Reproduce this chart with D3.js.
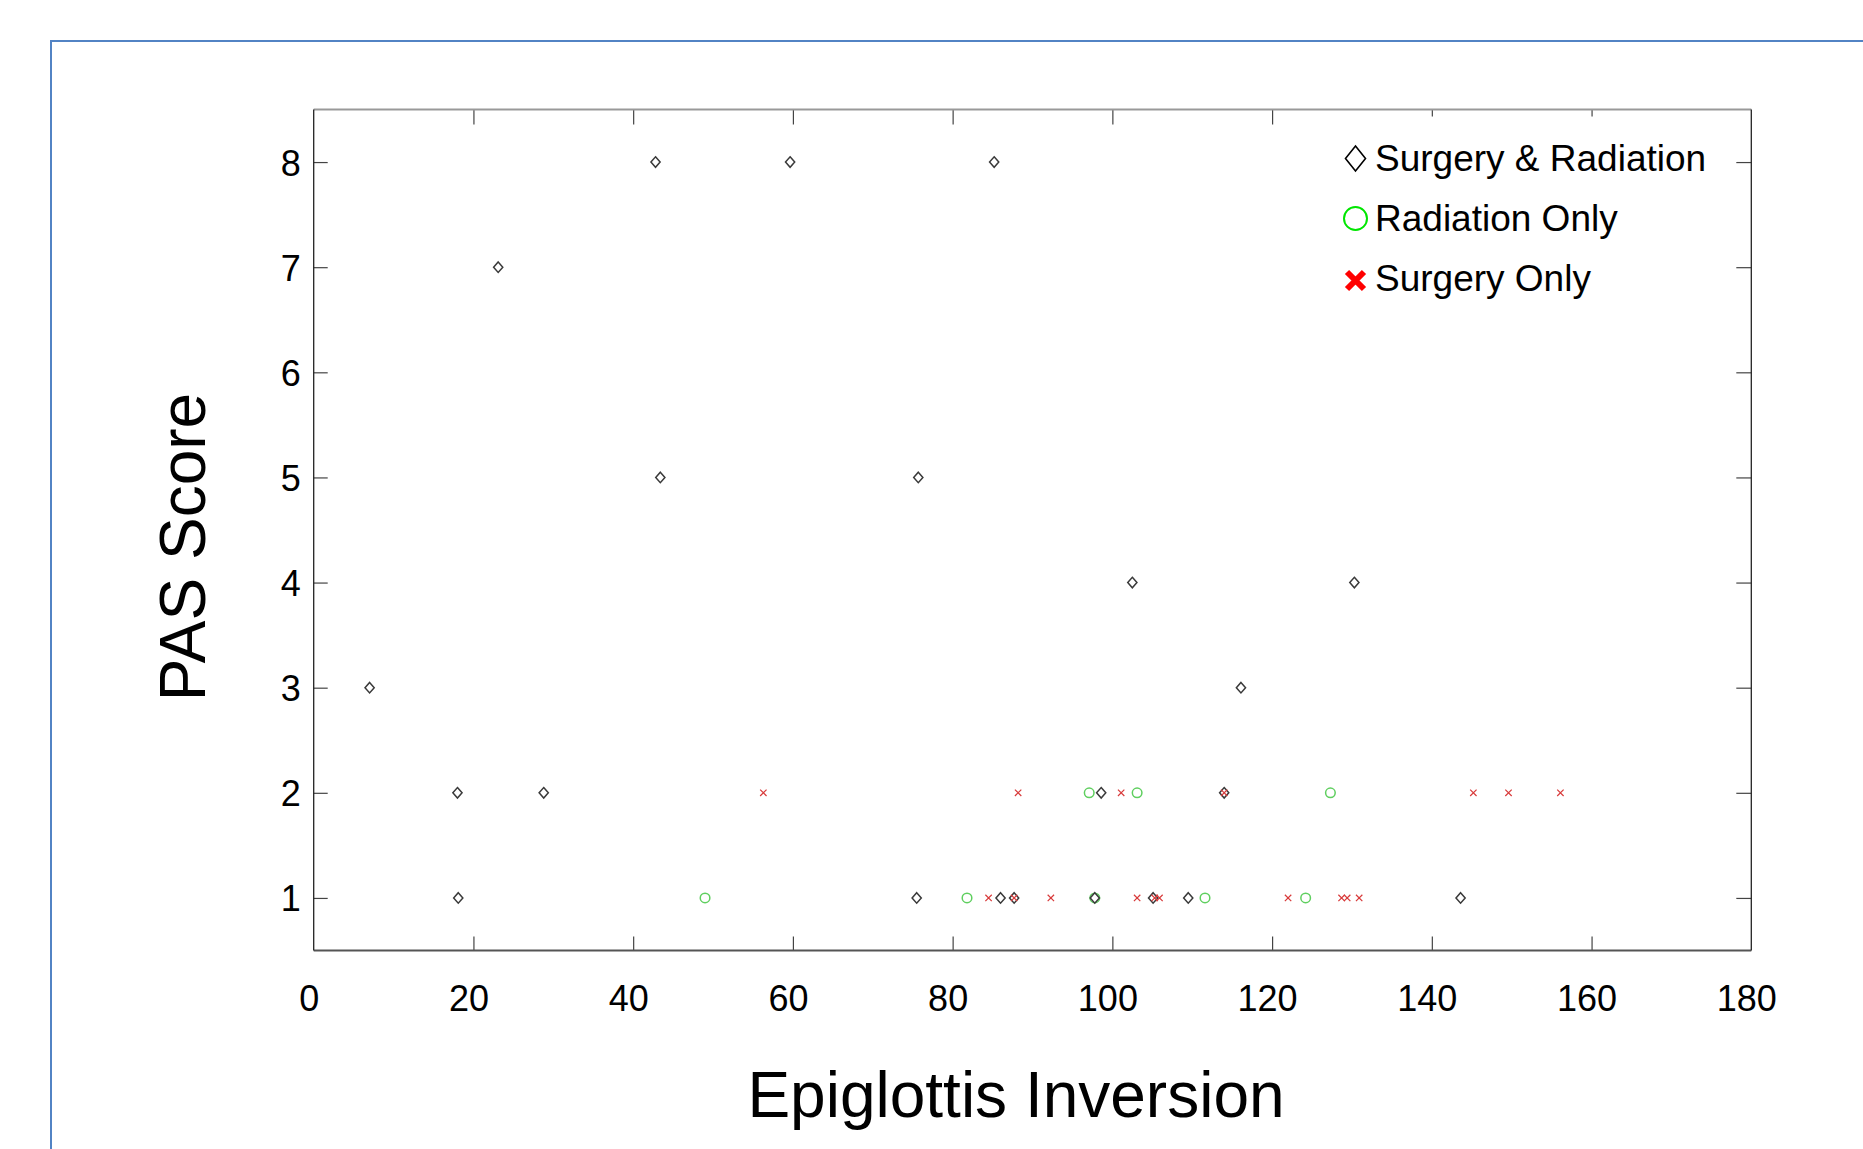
<!DOCTYPE html>
<html>
<head>
    <script src="https://d3js.org/d3.v7.min.js"></script>
    <title>PAS Score vs Epiglottis Inversion</title>
    <style>
        body { margin: 0; background: white; }
        text { font-family: "Liberation Sans", Arial, sans-serif; fill: black; }
    </style>
</head>
<body>
    <svg id="plot" height="1149" width="1863"></svg>
    <script>
        // data: [epiglottis inversion, PAS score]
        const surgeryRadiation = [
            [7.0, 3], [18.0, 2], [18.1, 1], [23.1, 7], [28.8, 2], [42.8, 8], [43.4, 5],
            [59.65, 8], [75.5, 1], [75.7, 5], [85.2, 8], [86.0, 1], [87.7, 1], [97.8, 1],
            [98.6, 2], [102.5, 4], [105.1, 1], [109.5, 1], [114.0, 2], [116.1, 3],
            [130.3, 4], [143.6, 1]
        ];
        const radiationOnly = [
            [49.0, 1], [81.8, 1], [97.1, 2], [97.8, 1], [103.1, 2], [111.6, 1],
            [124.2, 1], [127.3, 2]
        ];
        const surgeryOnly = [
            [56.3, 2], [84.5, 1], [87.7, 1], [88.2, 2], [92.3, 1], [101.1, 2], [103.1, 1],
            [105.3, 1], [105.9, 1], [114.0, 2], [122.0, 1], [128.7, 1], [129.4, 1],
            [130.9, 1], [145.2, 2], [149.6, 2], [156.1, 2]
        ];
        const legendLabels = ["Surgery & Radiation", "Radiation Only", "Surgery Only"];
        const xTicks = [0, 20, 40, 60, 80, 100, 120, 140, 160, 180];
        const yTicks = [1, 2, 3, 4, 5, 6, 7, 8];
        const xTitle = "Epiglottis Inversion";
        const yTitle = "PAS Score";

        const svg = d3.select('svg#plot');
        const box = {left: 313.7, right: 1751.3, top: 109.5, bottom: 950.5};

        const xScale = d3.scaleLinear().domain([0, 180]).range([box.left, box.right]);
        const yScale = d3.scaleLinear().domain([0.5, 8.5]).range([box.bottom, box.top]);

        // blue frame around the figure
        svg.append("path")
           .attr("d", "M51,1149 L51,41 L1863,41")
           .style("fill", "none")
           .style("stroke", "#5283c4")
           .style("stroke-width", 2);

        // inner ticks
        const inner = xTicks.slice(1, -1);
        svg.append("g").attr("transform", `translate(0,${box.bottom})`)
           .call(d3.axisBottom(xScale).tickValues(inner).tickSize(-14).tickFormat(''))
           .call(g => g.select(".domain").remove());
        let topAxis = svg.append("g").attr("transform", `translate(0,${box.top})`)
           .call(d3.axisTop(xScale).tickValues(inner).tickSize(-15).tickFormat(''))
           .call(g => g.select(".domain").remove());
        topAxis.selectAll(".tick line").filter(d => d >= 140).attr("y2", 7);
        svg.append("g").attr("transform", `translate(${box.left},0)`)
           .call(d3.axisLeft(yScale).tickValues(yTicks).tickSize(-14).tickFormat(''))
           .call(g => g.select(".domain").remove());
        svg.append("g").attr("transform", `translate(${box.right},0)`)
           .call(d3.axisRight(yScale).tickValues(yTicks).tickSize(-15).tickFormat(''))
           .call(g => g.select(".domain").remove());
        svg.selectAll(".tick line").style("stroke", "#444").style("stroke-width", 1.2);

        // tick labels
        let xLab = svg.append("g").attr("transform", `translate(0,${box.bottom})`)
           .call(d3.axisBottom(xScale).tickValues(xTicks).tickSize(0).tickPadding(35))
           .call(g => g.select(".domain").remove());
        xLab.selectAll("text").attr("font-size", 36).attr("dx", -5);
        let yLab = svg.append("g").attr("transform", `translate(${box.left},0)`)
           .call(d3.axisLeft(yScale).tickValues(yTicks).tickSize(0).tickPadding(13))
           .call(g => g.select(".domain").remove());
        yLab.selectAll("text").attr("font-size", 36).attr("dy", "0.36em");
        svg.selectAll(".tick text").style("font-family", '"Liberation Sans", Arial, sans-serif').attr("fill", "black");

        // plot box
        svg.append("line").attr("x1", box.left).attr("x2", box.right).attr("y1", box.top).attr("y2", box.top)
           .style("stroke", "#999").style("stroke-width", 2.2);
        svg.append("line").attr("x1", box.left).attr("x2", box.right).attr("y1", box.bottom).attr("y2", box.bottom)
           .style("stroke", "#555").style("stroke-width", 1.8);
        svg.append("line").attr("x1", box.left).attr("x2", box.left).attr("y1", box.top).attr("y2", box.bottom)
           .style("stroke", "#222").style("stroke-width", 1.3);
        svg.append("line").attr("x1", box.right).attr("x2", box.right).attr("y1", box.top).attr("y2", box.bottom)
           .style("stroke", "#222").style("stroke-width", 1.3);

        // markers
        const diamond = (cx, cy, w, h) => `M${cx},${cy - h}L${cx + w},${cy}L${cx},${cy + h}L${cx - w},${cy}Z`;
        const cross = (cx, cy, s) => `M${cx - s},${cy - s}L${cx + s},${cy + s}M${cx - s},${cy + s}L${cx + s},${cy - s}`;

        svg.append("g").selectAll("circle").data(radiationOnly).join("circle")
           .attr("cx", d => xScale(d[0]))
           .attr("cy", d => yScale(d[1]))
           .attr("r", 4.8)
           .style("fill", "none")
           .style("stroke", "#5fcf5f")
           .style("stroke-width", 1.5);

        svg.append("g").selectAll("path").data(surgeryRadiation).join("path")
           .attr("d", d => diamond(xScale(d[0]), yScale(d[1]), 4.6, 5.2))
           .style("fill", "none")
           .style("stroke", "#3a3a3a")
           .style("stroke-width", 1.5);

        svg.append("g").selectAll("path").data(surgeryOnly).join("path")
           .attr("d", d => cross(xScale(d[0]), yScale(d[1]), 3.2))
           .style("fill", "none")
           .style("stroke", "#d83a3a")
           .style("stroke-width", 1.2);

        // legend
        const legendX = 1355.5;
        const legendY = d3.scalePoint().domain(legendLabels).range([158.5, 278.5]);
        let legend = svg.append("g");
        legend.append("path")
              .attr("d", diamond(legendX, legendY(legendLabels[0]), 10, 12.5))
              .style("fill", "none").style("stroke", "black").style("stroke-width", 1.6);
        legend.append("circle")
              .attr("cx", legendX).attr("cy", legendY(legendLabels[1])).attr("r", 11.5)
              .style("fill", "none").style("stroke", "#00e600").style("stroke-width", 2);
        legend.append("path")
              .attr("d", cross(legendX, legendY(legendLabels[2]) + 2, 8.5))
              .style("fill", "none").style("stroke", "#ff0000").style("stroke-width", 6);
        legendLabels.forEach((d, i) => {
            legend.append("text")
                  .attr("x", 1375)
                  .attr("y", legendY(d) + 12.5)
                  .attr("font-size", 37)
                  .text(d);
        });

        // axis titles
        svg.append("text")
           .attr("text-anchor", "middle")
           .attr("font-size", 64)
           .attr("x", 1016)
           .attr("y", 1117)
           .text(xTitle);
        svg.append("text")
           .attr("text-anchor", "middle")
           .attr("font-size", 64)
           .attr("transform", "translate(205,547) rotate(-90)")
           .text(yTitle);
    </script>
</body>
</html>
